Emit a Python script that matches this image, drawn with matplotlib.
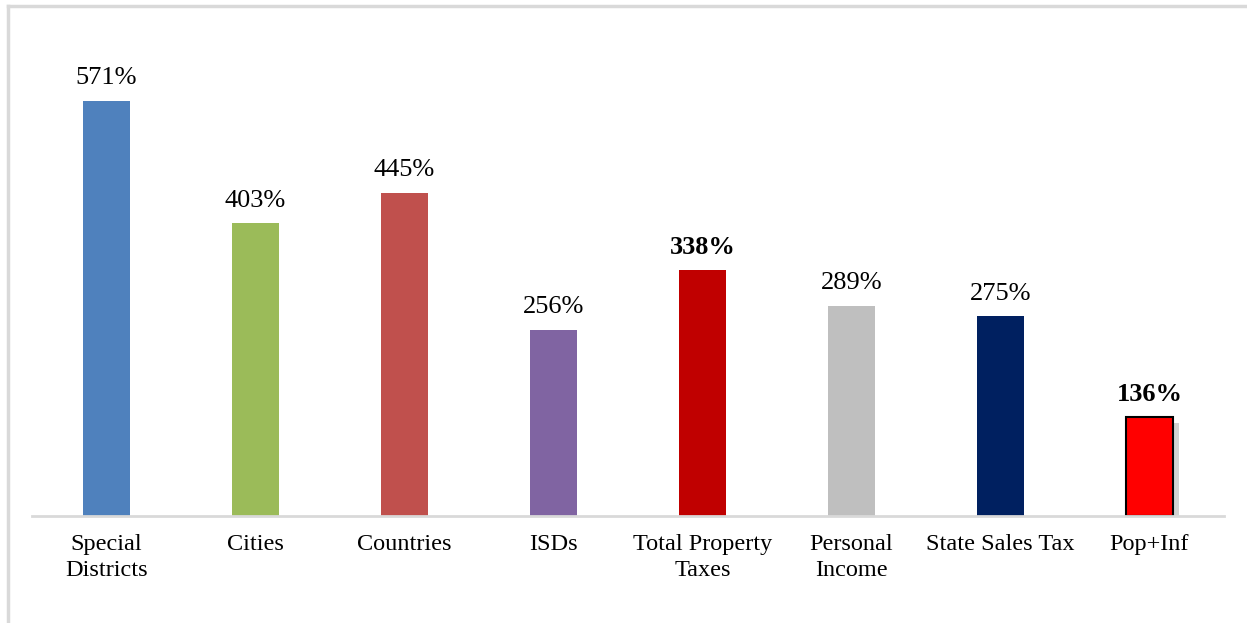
import matplotlib.pyplot as plt
from matplotlib.lines import Line2D
import matplotlib.patheffects as pe

# Crescita percentuale per categoria
categories = ['Special\nDistricts', 'Cities', 'Countries', 'ISDs',
              'Total Property\nTaxes', 'Personal\nIncome', 'State Sales Tax', 'Pop+Inf']
values = [571, 403, 445, 256, 338, 289, 275, 136]
colors = ['#4f81bd', '#9bbb59', '#c0504d', '#8064a2',
          '#c00000', '#bfbfbf', '#002060', '#ff0000']
bold = [False, False, False, False, True, False, False, True]

plt.rcParams['font.family'] = ['Liberation Serif', 'DejaVu Serif']

fig = plt.figure(figsize=(12.47, 6.23), dpi=100)
ax = fig.add_axes([32 / 1247, 107 / 623, (1224 - 32) / 1247, (516 - 80) / 623])

x = range(len(values))
bars = ax.bar(x, values, width=0.315, color=colors, zorder=2)

# ultima barra: bordo nero e ombra
last = bars[-1]
last.set_edgecolor('black')
last.set_linewidth(1.5)
last.set_path_effects([pe.SimplePatchShadow(offset=(4, -4), shadow_rgbFace='#999999', alpha=0.45),
                       pe.Normal()])

for i, (v, b) in enumerate(zip(values, bold)):
    ax.text(i, v + 16, f'{v}%', ha='center', va='bottom', fontsize=19,
            fontweight='bold' if b else 'normal')

ax.set_xlim(-0.5, len(values) - 0.5)
ax.set_ylim(0, 600)
ax.set_xticks(list(x))
ax.set_xticklabels(categories, fontsize=17.5, linespacing=1.3)
ax.tick_params(axis='x', length=0, pad=13)
ax.set_yticks([])
for s in ['top', 'right', 'left']:
    ax.spines[s].set_visible(False)
ax.spines['bottom'].set_color('#d9d9d9')
ax.spines['bottom'].set_linewidth(2)

# cornice esterna
fig.add_artist(Line2D([8 / 1247, 8 / 1247], [0, 1 - 6 / 623], color='#d9d9d9', lw=2.5))
fig.add_artist(Line2D([8 / 1247, 1], [1 - 6 / 623, 1 - 6 / 623], color='#d9d9d9', lw=2.5))

fig.savefig('out.png', dpi=100)
